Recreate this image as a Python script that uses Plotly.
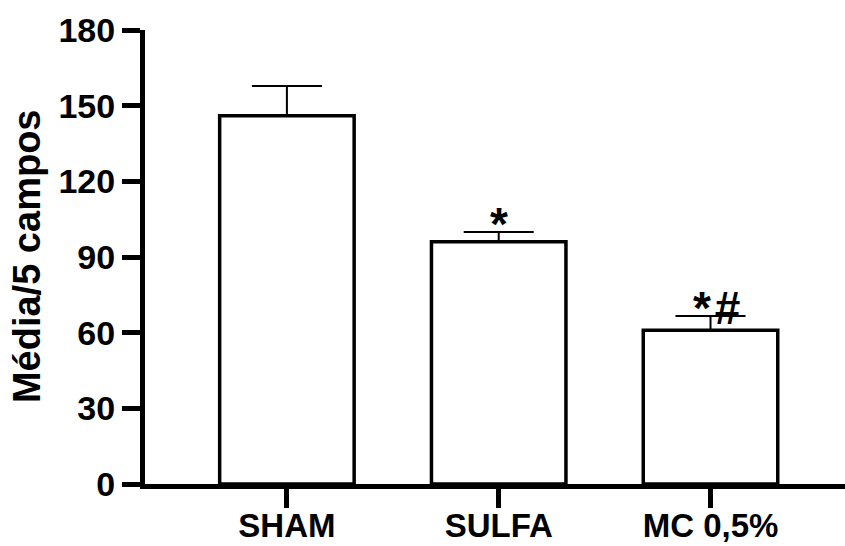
import plotly.graph_objects as go

categories = ["SHAM", "SULFA", "MC 0,5%"]
means = [146, 96, 61]
sem_up = [11.8, 3.9, 5.6]
marks = ["", "*", "*\u200a#"]
ytick_vals = [0, 30, 60, 90, 120, 150, 180]
y_title = "Média/5 campos"

FONT = "Liberation Sans, Arial, sans-serif"

fig = go.Figure()
fig.add_trace(go.Bar(
    x=categories, y=means,
    width=0.635,
    marker=dict(color="white", line=dict(color="black", width=3.5)),
    error_y=dict(type="data", symmetric=False, array=sem_up,
                 arrayminus=[0] * len(means),
                 color="black", thickness=2, width=35),
    showlegend=False,
))

for c, m, e, t in zip(categories, means, sem_up, marks):
    if t:
        fig.add_annotation(x=c, y=m + e, text=t, showarrow=False,
                           yanchor="middle", yshift=8,
                           xshift=6 if len(t) > 1 else 0,
                           font=dict(family=FONT, size=46, color="black", weight="bold"))

fig.add_annotation(xref="paper", yref="paper", x=-0.1686, y=0.502,
                   text=y_title, textangle=-90, showarrow=False,
                   xanchor="center", yanchor="middle",
                   font=dict(family=FONT, size=38, color="black", weight="bold"))

fig.update_layout(
    width=845, height=546,
    margin=dict(l=145, r=0, t=30, b=62),
    plot_bgcolor="white", paper_bgcolor="white",
    font=dict(family=FONT, color="black"),
)
fig.update_xaxes(
    range=[-0.67, 2.635], automargin=False,
    showline=True, linewidth=5, linecolor="black",
    ticks="outside", ticklen=19, tickwidth=5, tickcolor="black",
    ticklabelstandoff=-11,
    tickfont=dict(family=FONT, size=33, color="black", weight="bold"),
    showgrid=False, zeroline=False,
)
fig.update_yaxes(
    range=[0, 180], automargin=False,
    tickvals=ytick_vals,
    showline=True, linewidth=5, linecolor="black",
    ticks="outside", ticklen=18, tickwidth=5, tickcolor="black",
    tickfont=dict(family=FONT, size=34, color="black", weight="bold"),
    showgrid=False, zeroline=False,
)

fig.write_html("out.html")
